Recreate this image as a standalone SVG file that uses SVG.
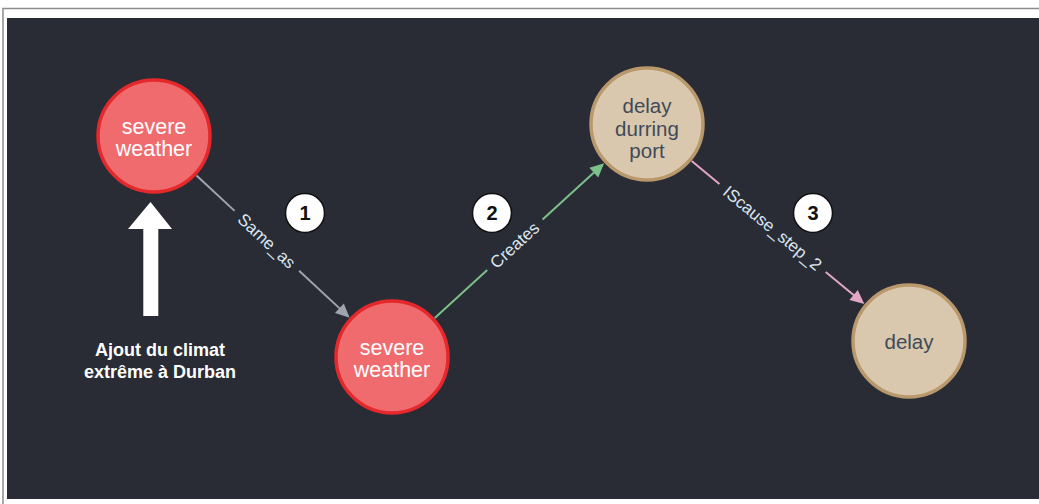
<svg xmlns="http://www.w3.org/2000/svg" width="1039" height="504" viewBox="0 0 1039 504">
  <style>
    .frame { fill: #ffffff; stroke: #8c8c8c; stroke-width: 1.5; }
    .panel { fill: #292c34; }
    .red circle { fill: #f06b6e; stroke: #e5282b; stroke-width: 3.5; }
    .red text { fill: #ffffff; }
    .tan circle { fill: #d9c8ad; stroke: #b9996c; stroke-width: 3.5; }
    .tan text { fill: #3f4a59; font-size: 20.5px; }
    .node text { font-family: "Liberation Sans", Arial, sans-serif; text-anchor: middle; }
    .red text { font-size: 21.5px; }
    .elabel { font-family: "Liberation Sans", Arial, sans-serif; font-size: 17px; fill: #dbe6f2; text-anchor: middle; }
    .badge circle { fill: #ffffff; stroke: #111111; stroke-width: 1.5; }
    .badge text { font-family: "Liberation Sans", Arial, sans-serif; font-size: 20px; font-weight: bold; fill: #111111; text-anchor: middle; }
    .note { font-family: "Liberation Sans", Arial, sans-serif; font-size: 18px; font-weight: bold; fill: #ffffff; text-anchor: middle; }
  </style>

  <path class="frame" d="M3 504 V8.5 H1039" fill="none"/>
  <rect class="panel" x="7" y="18" width="1032" height="481"/>

  <g id="connectors" stroke-width="2" fill="none">
    <g id="edge-same-as" transform="translate(196.5,175.5) rotate(42.88)">
      <line x1="0" y1="0" x2="52" y2="0" stroke="#9ea3ad"/>
      <line x1="140" y1="0" x2="196" y2="0" stroke="#9ea3ad"/>
      <polygon points="209,0 195,-6.5 195,6.5" fill="#9ea3ad" stroke="none"/>
      <text class="elabel" x="96" y="6" stroke="none">Same_as</text>
    </g>
    <g id="edge-creates" transform="translate(434.8,317.9) rotate(-42.42)">
      <line x1="0" y1="0" x2="71" y2="0" stroke="#7cc08a"/>
      <line x1="146" y1="0" x2="216" y2="0" stroke="#7cc08a"/>
      <polygon points="229.4,0 215.4,-6.5 215.4,6.5" fill="#7cc08a" stroke="none"/>
      <text class="elabel" x="108" y="6" stroke="none">Creates</text>
    </g>
    <g id="edge-iscause" transform="translate(691.7,161) rotate(39.63)">
      <line x1="0" y1="0" x2="36" y2="0" stroke="#e3a6c6"/>
      <line x1="174" y1="0" x2="211" y2="0" stroke="#e3a6c6"/>
      <polygon points="224.2,0 210.2,-6.5 210.2,6.5" fill="#e3a6c6" stroke="none"/>
      <text class="elabel" x="105" y="6" stroke="none">IScause_step_2</text>
    </g>
  </g>

  <g id="node-severe-weather-1" class="node red">
    <circle cx="154" cy="136" r="56"/>
    <text x="154" y="134">severe</text>
    <text x="154" y="156">weather</text>
  </g>
  <g id="node-severe-weather-2" class="node red">
    <circle cx="392" cy="357" r="56"/>
    <text x="392" y="355">severe</text>
    <text x="392" y="377">weather</text>
  </g>
  <g id="node-delay-durring-port" class="node tan">
    <circle cx="647" cy="124" r="56"/>
    <text x="647" y="113">delay</text>
    <text x="647" y="135.5">durring</text>
    <text x="647" y="158">port</text>
  </g>
  <g id="node-delay" class="node tan">
    <circle cx="909" cy="341" r="56"/>
    <text x="909" y="349">delay</text>
  </g>

  <g id="badge-1" class="badge">
    <circle cx="305" cy="213" r="19.5"/>
    <text x="305" y="220">1</text>
  </g>
  <g id="badge-2" class="badge">
    <circle cx="492" cy="213" r="19.5"/>
    <text x="492" y="220">2</text>
  </g>
  <g id="badge-3" class="badge">
    <circle cx="813" cy="213" r="19.5"/>
    <text x="813" y="220">3</text>
  </g>

  <g id="annotation">
    <polygon points="150.5,202 172,229 158.3,229 158.3,316 143.3,316 143.3,229 128,229" fill="#ffffff"/>
    <text class="note" x="160" y="356">Ajout du climat</text>
    <text class="note" x="160" y="378">extrême à Durban</text>
  </g>
</svg>
